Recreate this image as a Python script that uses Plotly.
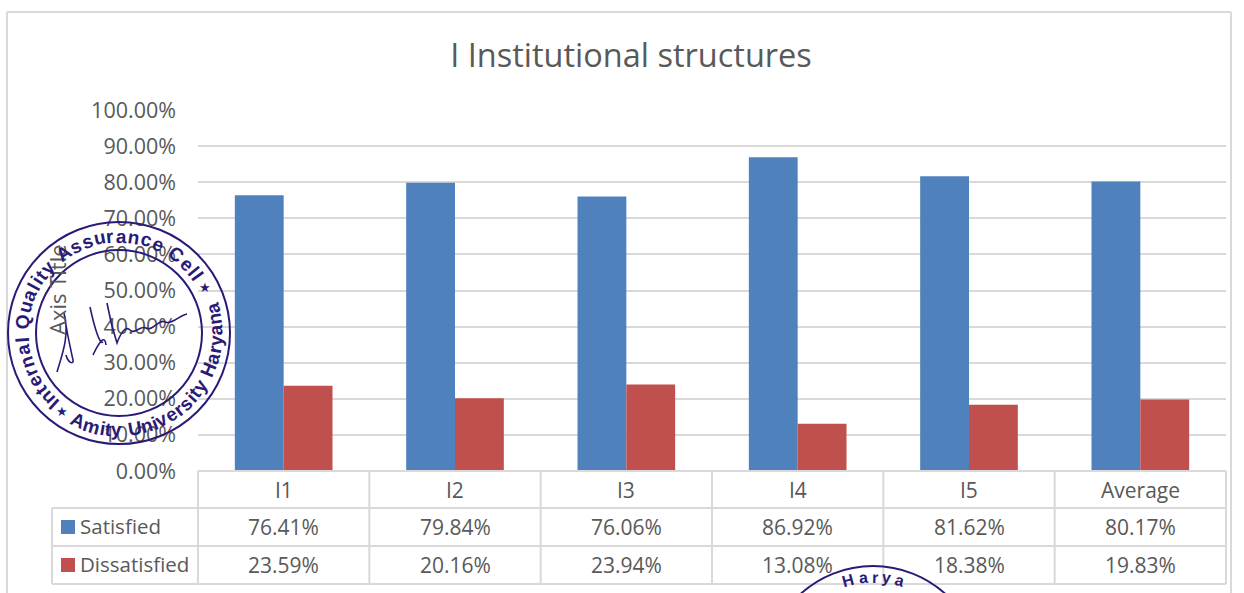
import math
import plotly.graph_objects as go

categories = ["I1", "I2", "I3", "I4", "I5", "Average"]
satisfied = [0.7641, 0.7984, 0.7606, 0.8692, 0.8162, 0.8017]
dissatisfied = [0.2359, 0.2016, 0.2394, 0.1308, 0.1838, 0.1983]
series_names = ["Satisfied", "Dissatisfied"]
title_text = "I Institutional structures"
axis_title = "Axis Title"

W, H = 1244, 593
BLUE, RED = "#4F81BD", "#C0504D"
GREY, LINE = "#595959", "#D9D9D9"
INK = "#2A1A78"
FONT = "Open Sans, Noto Sans, sans-serif"
L, R, T, B = 198, 1226, 110, 471


def px(x):
    return x / W


def py(y):
    return 1 - y / H


fig = go.Figure()
fig.add_bar(x=categories, y=satisfied, name=series_names[0], marker_color=BLUE, marker_line_width=0)
fig.add_bar(x=categories, y=dissatisfied, name=series_names[1], marker_color=RED, marker_line_width=0)

shapes, notes = [], []


def line(x0, y0, x1, y1, color=LINE, width=2):
    shapes.append(dict(type="line", xref="paper", yref="paper", x0=px(x0), y0=py(y0),
                       x1=px(x1), y1=py(y1), line=dict(color=color, width=width)))


def text(x, y, s, size=21, color=GREY, angle=0, xanchor="center", family=FONT, bold=False):
    notes.append(dict(xref="paper", yref="paper", x=px(x), y=py(y), text=f"<b>{s}</b>" if bold else s,
                      showarrow=False, xanchor=xanchor, yanchor="middle", textangle=angle,
                      font=dict(size=size, color=color, family=family)))


# chart frame
line(7, 12, 1231, 12)
line(7, 12, 7, 593)
line(1231, 12, 1231, 593)

# data table under the plot
slot = (R - L) / len(categories)
rows = [471, 508, 546, 584]
for i in range(len(categories) + 1):
    line(L + i * slot, rows[0], L + i * slot, rows[3])
line(L, rows[0], R, rows[0])
line(52, rows[1], R, rows[1])
line(52, rows[2], R, rows[2])
line(52, rows[3], R, rows[3])
line(52, rows[1], 52, rows[3])

for i, c in enumerate(categories):
    cx = L + (i + 0.5) * slot
    text(cx, (rows[0] + rows[1]) / 2 + 0.5, c)
    text(cx, (rows[1] + rows[2]) / 2 - 0.5, f"{satisfied[i]:.2%}")
    text(cx, (rows[2] + rows[3]) / 2 - 0.5, f"{dissatisfied[i]:.2%}")

for k, (name, col) in enumerate(zip(series_names, [BLUE, RED])):
    cy = (rows[1 + k] + rows[2 + k]) / 2
    shapes.append(dict(type="rect", xref="paper", yref="paper", x0=px(61), x1=px(75),
                       y0=py(cy - 7), y1=py(cy + 7), fillcolor=col, line_width=0))
    text(78, cy - 1, name, size=20.5, xanchor="left")

text(57, 290, axis_title, size=22, angle=-90)


# stamp decoration
def circle(cx, cy, r, w=2):
    shapes.append(dict(type="circle", xref="paper", yref="paper", x0=px(cx - r), x1=px(cx + r),
                       y0=py(cy - r), y1=py(cy + r), line=dict(color=INK, width=w)))


NARROW = {"i": 0.5, "l": 0.5, "I": 0.55, "t": 0.6, "f": 0.6, "r": 0.7, " ": 0.55}
WIDE = {"m": 1.5, "A": 1.25, "Q": 1.35, "C": 1.25, "U": 1.25, "H": 1.25}


def arc_text(cx, cy, r, s, a0, a1, flip=False, size=19):
    w = [NARROW.get(ch, WIDE.get(ch, 1.0)) for ch in s]
    total = sum(w)
    run = 0.0
    for ch, wi in zip(s, w):
        a = a0 + (a1 - a0) * (run + wi / 2) / total
        run += wi
        rad = math.radians(a)
        x = cx + r * math.sin(rad)
        y = cy - r * math.cos(rad)
        rot = a + 180 if flip else a
        if ch != " ":
            text(x, y, ch, size=size, color=INK, angle=rot, family="Liberation Sans", bold=True)


CX, CY = 119, 333
circle(CX, CY, 111)
circle(CX, CY, 83)
arc_text(CX, CY, 97, "Internal Quality Assurance Cell", -140, 56)
arc_text(CX, CY, 97, "Amity University Haryana", 209, 72, flip=True)
text(CX + 97 * math.sin(math.radians(62)), CY - 97 * math.cos(math.radians(62)), "★", size=13, color=INK)
text(CX + 97 * math.sin(math.radians(216)), CY - 97 * math.cos(math.radians(216)), "★", size=13, color=INK)

signature = ("M57,372 C62,355 70,335 64,313 C68,340 72,355 73,360 C74,365 68,363 66,355 "
             "M90,307 C95,330 100,345 103,342 M93,355 C100,340 105,335 106,345 "
             "M107,303 C110,320 116,340 117,343 C120,335 125,325 130,330 C135,335 140,325 146,328 "
             "C152,332 160,318 165,322 C172,325 180,315 187,314")
path = []
for tok in signature.split():
    cmd = tok[0] if tok[0].isalpha() else ""
    xs, ys = tok[len(cmd):].split(",")
    path.append(f"{cmd}{px(float(xs)):.5f},{py(float(ys)):.5f}")
shapes.append(dict(type="path", xref="paper", yref="paper", path=" ".join(path),
                   line=dict(color=INK, width=1.6)))

# second stamp, clipped by the page bottom
circle(873, 674, 108)
arc_text(873, 674, 97, "Harya", -20, 20, size=16)

fig.update_layout(
    width=W, height=H, autosize=False, margin=dict(l=0, r=0, t=0, b=0),
    paper_bgcolor="white", plot_bgcolor="white", showlegend=False,
    barmode="group", bargap=0.43, bargroupgap=0,
    title=dict(text=title_text, x=631 / W, xanchor="center", y=py(56), yanchor="middle",
               font=dict(size=32.5, color=GREY, family=FONT)),
    xaxis=dict(domain=[px(L), px(R)], showticklabels=False, ticks="", showline=False, showgrid=False,
               type="category", automargin=False),
    yaxis=dict(domain=[py(B), py(T)], range=[0, 1], dtick=0.1, tickformat=".2%", ticks="",
               showline=False, gridcolor=LINE, gridwidth=1.5, zeroline=False, ticklabelstandoff=21,
               automargin=False, tickfont=dict(size=21.5, color=GREY, family=FONT)),
    shapes=shapes, annotations=notes, font=dict(family=FONT, color=GREY),
)

fig.write_html("out.html", config=dict(displayModeBar=False),
               post_script="document.body.style.margin='0';document.documentElement.style.overflow='hidden';")
